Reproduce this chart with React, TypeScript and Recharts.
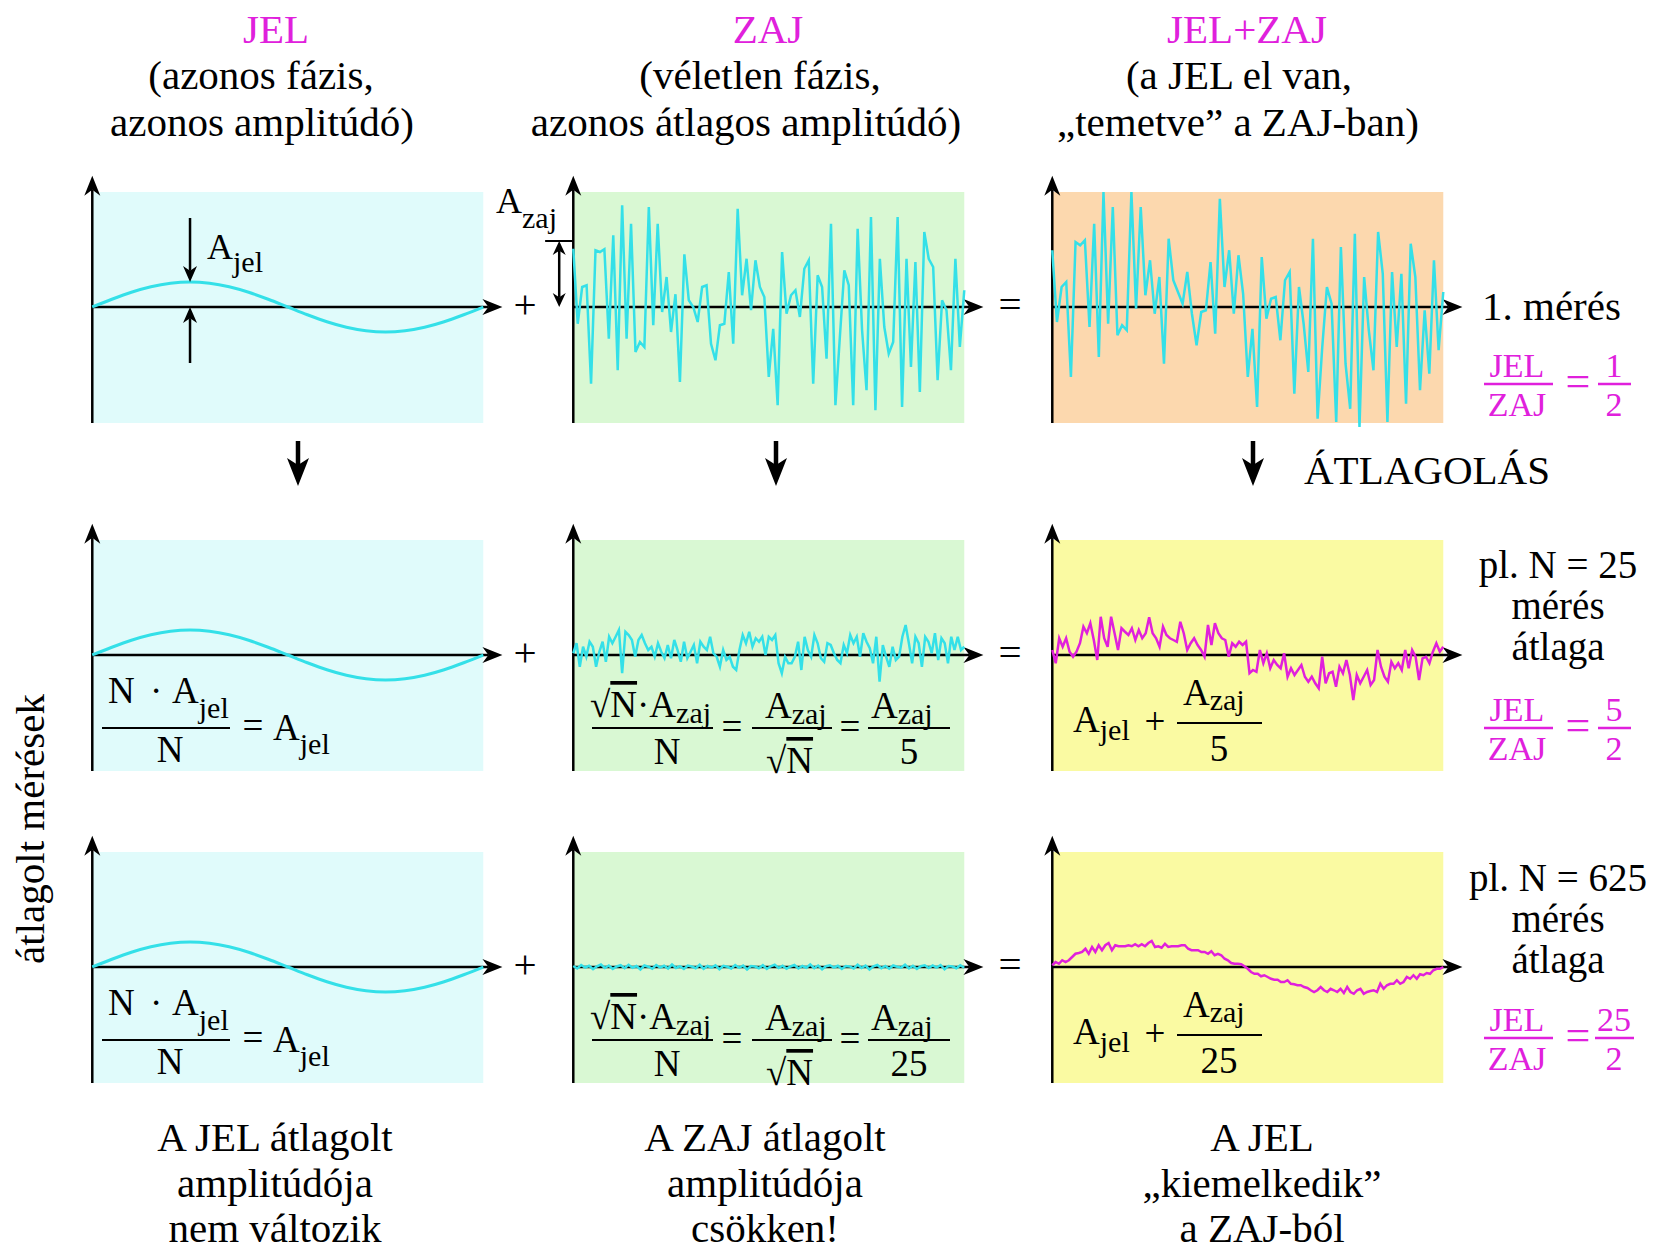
import React from 'react'
import {
  Line,
  LineChart,
  ReferenceArea,
  ReferenceLine,
  XAxis,
  YAxis,
} from 'recharts'

// values in units of the signal amplitude (A_jel = 1)
const jelValues = [
  0, 0.31, 0.59, 0.81, 0.95, 1, 0.95, 0.81, 0.59, 0.31, 0, -0.31, -0.59, -0.81,
  -0.95, -1, -0.95, -0.81, -0.59, -0.31, 0,
]

const zajValues1 = [
  2.33, -0.67, 0.8, 0.87, -3.07, 2.27, 2.2, 2.31, -1.27, 2.87, -2.53, 4.07,
  -1.27, 3.33, -1.8, -1.4, -1.6, 4.0, -0.73, 3.33, -0.2, 1.2, -1.0, 0.51, -3.0,
  2.11, 0.27, 0, -0.6, 0.8, 0.87, -1.47, -2.13, -0.73, -0.67, 1.4, -1.47, 3.93,
  0.47, 1.93, -0.13, 1.87, 0.8, 0.4, -2.8, -0.87, -3.93, 2.2, -0.27, 0.47, 0.67,
  -0.4, 1.53, 1.87, -3.07, 1.27, 0.8, -2.07, 3.33, -3.93, -1.2, 1.47, 0.87,
  -3.93, 3.13, -0.93, -3.33, 3.6, -4.13, 1.93, -0.8, -1.87, -1.4, 3.6, -4.0,
  1.93, -2.4, 1.8, -3.4, 3.0, 1.93, 1.6, -2.93, 0.27, -0.13, -2.53, 1.93, -1.6,
  0.67,
]

const jelZajValues1 = [
  2.27, -0.6, 0.8, 1.0, -2.8, 2.6, 2.47, 2.67, -0.8, 3.33, -2.0, 4.6, -0.67,
  4.0, -1.13, -0.73, -0.93, 4.6, -0.07, 4.0, 0.47, 1.87, -0.27, 1.2, -2.27,
  2.73, 1.07, 0.6, 0.13, 1.4, -0.27, -1.53, -0.2, -0.13, 1.8, -1.07, 4.33, 0.8,
  2.27, -0.27, 2.07, 0.53, -2.8, -0.87, -4.0, 2.0, -0.47, 0.33, 0.4, -1.33,
  1.07, 1.4, -3.47, 0.8, -0.67, -2.6, 2.73, -4.47, -1.6, 0.8, 0.13, -4.6, 2.4,
  -2.27, -4.07, 2.93, -4.8, 1.2, -0.93, -2.53, 3.0, 1.33, -4.6, 1.4, -1.6, 1.33,
  -3.87, 2.53, 1.2, -3.33, -0.13, -2.67, 1.87, -1.73, 0.6,
]

const zajValues25 = [
  0.07, 0.47, -0.47, 0.33, -0.07, 0.53, 0.33, -0.47, 0.13, 0.53, -0.27, 0.73,
  0.47, 0.73, 1.0, -0.73, 0.93, 0.8, 0.6, -0.07, 0.6, 0.8, 0.47, 0.2, 0.33,
  -0.07, 0.47, 0.13, -0.13, 0.4, -0.13, 0.6, 0.2, -0.27, 0.53, -0.13, 0.13, 0.4,
  -0.33, 0.53, 0.33, 0.2, 0.73, 0.07, -0.07, -0.47, 0.2, -0.2, -0.07, -0.47,
  -0.6, 0.2, 0.8, 0.47, 0.93, 0.33, 0.67, 0.53, 0.73, 0, 0.73, 0.6, 0.8, -0.33,
  -0.73, -0.07, -0.33, -0.33, -0.07, 0.53, -0.6, 0.73, 0.2, -0.07, 0.8, 0.47,
  -0.13, -0.27, 0.47, 0.4, 0.07, -0.2, -0.33, 0.4, 0.07, 0.8, 0.47, 0.73, -0.07,
  0.87, 0.53, 0.27, -0.33, 0.73, -1.07, 0.4, -0.07, -0.47, 0.33, -0.2, -0.07,
  0.73, 1.2, 0.47, -0.33, 0.73, 0.47, -0.47, 0.73, 0.53, 0.07, 0.87, -0.2, 0.67,
  0.47, -0.33, 0.73, 0.2, 0.73, 0.2, 0.33,
]

const jelZajValues25 = [
  0.2, -0.33, 0.67, 0.33, 0.67, 0.13, -0.07, 0.13, 0.47, 1.13, 0.87, 1.27, 0.6,
  -0.2, 1.53, 0.67, 0.33, 1.53, 0.87, 0.2, 1.07, 0.93, 0.8, 1.07, 0.6, 1.0,
  0.67, 0.87, 1.51, 0.87, 0.67, 0.33, 1.13, 0.8, 0.67, 0.6, 0.53, 1.33, 0.87,
  0.2, 0.47, 0.67, 0.4, 0.2, -0.07, 1.2, 0.4, 1.27, 0.87, 0.67, 0.6, -0.07, 0.47,
  0.33, 0.53, 0.4, 0.53, -0.73, -0.6, -0.67, 0.2, -0.33, 0.07, -0.53, -0.2,
  -0.4, -0.53, 0.07, -0.87, -0.53, -0.8, -0.6, -0.4, -0.87, -1.07, -0.87, -1.13,
  -1.33, -0.07, -1.13, -0.73, -0.67, -1.27, -0.47, -0.73, -0.2, -0.8, -1.8,
  -0.8, -1.13, -0.87, -0.6, -1.2, -1.0, 0.2, -0.47, -0.87, -1.07, -0.27, -0.53,
  -0.33, -0.6, 0.2, -0.53, 0.2, -0.07, -1.0, -0.13, -0.07, -0.33, 0.13, 0.47,
  0.13, 0.33,
]

const zajValues625 = [
  0.04, -0.06, 0.08, -0.02, 0.05, -0.09, 0.03, 0.1, -0.04, 0.06, -0.08, 0.02,
  0.07, -0.05, 0.09, -0.03, 0.04, -0.1, 0.06, 0.01, -0.07, 0.08, -0.02, 0.05,
  -0.06, 0.1, -0.04, 0.03, -0.08, 0.06, 0.02, -0.05, 0.09, -0.07, 0.04, -0.02,
  0.07, -0.09, 0.05, 0.01, -0.06, 0.08, -0.03, 0.06, -0.1, 0.04, 0.02, -0.05,
  0.07, -0.08, 0.03, 0.09, -0.04, 0.05, -0.07, 0.02, 0.08, -0.06, 0.04, -0.03,
  0.1, -0.05, 0.06, -0.09, 0.03, 0.07, -0.02, 0.05, -0.08, 0.04, 0.02, -0.06,
  0.09, -0.04, 0.06, -0.1, 0.03, 0.08, -0.05, 0.04, -0.07, 0.06, 0.01, -0.03,
  0.09, -0.06, 0.05, -0.08, 0.03, 0.07, -0.04, 0.06, -0.02, 0.08, -0.09, 0.04,
  0.02, -0.05, 0.07, -0.03,
]

const jelZajValues625 = [
  0.07, 0.2, 0.13, 0.27, 0.2, 0.27, 0.4, 0.53, 0.56, 0.6, 0.73, 0.53, 0.8, 0.6,
  0.87, 0.67, 0.87, 0.96, 0.67, 0.87, 0.83, 0.83, 0.83, 0.87, 0.83, 0.91, 0.83,
  0.91, 0.83, 0.96, 1.04, 0.8, 0.83, 0.77, 0.93, 0.8, 0.83, 0.83, 0.83, 0.87,
  0.87, 0.73, 0.67, 0.67, 0.67, 0.6, 0.6, 0.53, 0.63, 0.47, 0.53, 0.47, 0.33,
  0.27, 0.16, 0.13, 0.13, 0.11, 0.03, -0.07, -0.2, -0.27, -0.27, -0.37, -0.33,
  -0.4, -0.47, -0.51, -0.51, -0.6, -0.6, -0.53, -0.67, -0.69, -0.73, -0.73,
  -0.8, -0.84, -0.93, -1.0, -0.93, -0.8, -0.93, -1.0, -0.87, -0.93, -1.0, -0.87,
  -1.04, -0.8, -1.0, -1.07, -0.93, -0.87, -1.07, -1.0, -0.96, -0.93, -1.0,
  -0.67, -0.87, -0.73, -0.67, -0.67, -0.53, -0.67, -0.6, -0.4, -0.47, -0.33,
  -0.47, -0.29, -0.33, -0.24, -0.27, -0.13, -0.07, -0.07, 0,
]

const headTitles = ['JEL', 'ZAJ', 'JEL+ZAJ']
const headLine2 = ['(azonos fázis,', '(véletlen fázis,', '(a JEL el van,']
const headLine3 = [
  'azonos amplitúdó)',
  'azonos átlagos amplitúdó)',
  '„temetve” a ZAJ-ban)',
]
const footLines = [
  ['A JEL átlagolt', 'amplitúdója', 'nem változik'],
  ['A ZAJ átlagolt', 'amplitúdója', 'csökken!'],
  ['A JEL', '„kiemelkedik”', 'a ZAJ-ból'],
]
const rowNotes = [['1. mérés'], ['pl. N = 25', 'mérés', 'átlaga'], ['pl. N = 625', 'mérés', 'átlaga']]
const ratioNum = ['1', '5', '25']
const ratioDen = ['2', '2', '2']
const divisors = ['5', '25']

// ---- layout ----
const FONT = '"Liberation Serif", "Times New Roman", serif'
const MAG = '#e020dc'
const CYAN = '#34e0e8'
const BG_JEL = '#e0fbfb'
const BG_ZAJ = '#d9f8d3'
const BG_SUM1 = '#fcd8ae'
const BG_SUM = '#fafaa2'

const colX = [92, 573, 1052]
const rowY = [307, 655, 967]
const X_MIN = -8
const X_MAX = 106
const Y_MIN = -5.2
const Y_MAX = 5.6
const PX_X = 3.91
const PX_Y = 25
const CW = (X_MAX - X_MIN) * PX_X
const CH = (Y_MAX - Y_MIN) * PX_Y

const toPts = (vals: number[]) =>
  vals.map((y, i) => ({ x: (i * 100) / (vals.length - 1), y }))

const arrowShape =
  (head = 20, half = 8, width = 2.5) =>
  (props: any) => {
    const { x1, y1, x2, y2 } = props
    const dx = x2 - x1
    const dy = y2 - y1
    const len = Math.hypot(dx, dy) || 1
    const ux = dx / len
    const uy = dy / len
    const px = -uy
    const py = ux
    const bx = x2 - ux * head
    const by = y2 - uy * head
    const nx = x2 - ux * head * 0.7
    const ny = y2 - uy * head * 0.7
    return (
      <g>
        <line x1={x1} y1={y1} x2={nx} y2={ny} stroke="#000" strokeWidth={width} />
        <polygon
          points={`${x2},${y2} ${bx + px * half},${by + py * half} ${nx},${ny} ${bx - px * half},${by - py * half}`}
          fill="#000"
        />
      </g>
    )
  }

const plainShape = (props: any) => (
  <line x1={props.x1} y1={props.y1} x2={props.x2} y2={props.y2} stroke="#000" strokeWidth={2} />
)

interface Series {
  values: number[]
  color: string
  smooth?: boolean
}

function Panel({
  col,
  row,
  bg,
  series,
  children,
}: {
  col: number
  row: number
  bg: string
  series: Series[]
  children?: React.ReactNode
}) {
  return (
    <div
      style={{
        position: 'absolute',
        left: colX[col] + X_MIN * PX_X,
        top: rowY[row] - Y_MAX * PX_Y,
      }}
    >
      <LineChart width={CW} height={CH} margin={{ top: 0, right: 0, bottom: 0, left: 0 }}>
        <XAxis type="number" dataKey="x" domain={[X_MIN, X_MAX]} allowDataOverflow hide />
        <YAxis type="number" domain={[Y_MIN, Y_MAX]} allowDataOverflow hide />
        <ReferenceArea x1={0} x2={100} y1={-4.64} y2={4.6} fill={bg} fillOpacity={1} stroke="none" />
        <ReferenceLine segment={[{ x: 0, y: 0 }, { x: 104.9, y: 0 }]} shape={arrowShape()} />
        <ReferenceLine segment={[{ x: 0, y: -4.64 }, { x: 0, y: 5.25 }]} shape={arrowShape()} />
        {series.map((s, i) => (
          <Line
            key={i}
            data={toPts(s.values)}
            dataKey="y"
            type={s.smooth ? 'monotone' : 'linear'}
            stroke={s.color}
            strokeWidth={s.smooth ? 3 : 2.5}
            dot={false}
            isAnimationActive={false}
          />
        ))}
        {children}
      </LineChart>
    </div>
  )
}

const Sub = ({ children, dy }: { children: React.ReactNode; dy: number }) => (
  <tspan fontSize={30} dy={dy}>
    {children}
  </tspan>
)

function Fraction({ x1, x2, y }: { x1: number; x2: number; y: number }) {
  return <line x1={x1} x2={x2} y1={y} y2={y} stroke="#000" strokeWidth={2} />
}

function Formulas({ dy, div }: { dy: number; div: string }) {
  return (
    <g fontSize={37}>
      {/* JEL column */}
      <text x={108} y={703 + dy}>
        N<tspan x={150}>·</tspan>
        <tspan x={172}>A</tspan>
        <Sub dy={15}>jel</Sub>
      </text>
      <Fraction x1={102} x2={230} y={728 + dy} />
      <text x={170} y={762 + dy} textAnchor="middle">N</text>
      <text x={253} y={738 + dy} textAnchor="middle">=</text>
      <text x={273} y={740 + dy}>
        A<Sub dy={14}>jel</Sub>
      </text>

      {/* ZAJ column */}
      <text x={590} y={717 + dy}>
        √<tspan style={{ textDecoration: 'overline' }}>N</tspan>·A<Sub dy={6}>zaj</Sub>
      </text>
      <Fraction x1={592} x2={713} y={728 + dy} />
      <text x={667} y={764 + dy} textAnchor="middle">N</text>
      <text x={732} y={739 + dy} textAnchor="middle">=</text>
      <text x={765} y={718 + dy}>
        A<Sub dy={6}>zaj</Sub>
      </text>
      <Fraction x1={752} x2={832} y={728 + dy} />
      <text x={766} y={773 + dy}>
        √<tspan style={{ textDecoration: 'overline' }}>N</tspan>
      </text>
      <text x={850} y={739 + dy} textAnchor="middle">=</text>
      <text x={871} y={718 + dy}>
        A<Sub dy={6}>zaj</Sub>
      </text>
      <Fraction x1={868} x2={950} y={728 + dy} />
      <text x={909} y={764 + dy} textAnchor="middle">{div}</text>

      {/* JEL+ZAJ column */}
      <text x={1073} y={732 + dy}>
        A<Sub dy={8}>jel</Sub>
      </text>
      <text x={1155} y={734 + dy} textAnchor="middle">+</text>
      <text x={1183} y={705 + dy}>
        A<Sub dy={5}>zaj</Sub>
      </text>
      <Fraction x1={1177} x2={1262} y={723 + dy} />
      <text x={1219} y={761 + dy} textAnchor="middle">{div}</text>
    </g>
  )
}

function Ratio({ row, base }: { row: number; base: number }) {
  return (
    <g fill={MAG} fontSize={34}>
      <text x={1517} y={base} textAnchor="middle">JEL</text>
      <line x1={1484} x2={1553} y1={base + 7} y2={base + 7} stroke={MAG} strokeWidth={2.5} />
      <text x={1517} y={base + 39} textAnchor="middle">ZAJ</text>
      <text x={1578} y={base + 19} textAnchor="middle" fontSize={44}>=</text>
      <text x={1614} y={base} textAnchor="middle">{ratioNum[row]}</text>
      <line
        x1={ratioNum[row].length > 1 ? 1595 : 1598}
        x2={ratioNum[row].length > 1 ? 1634 : 1631}
        y1={base + 7}
        y2={base + 7}
        stroke={MAG}
        strokeWidth={2.5}
      />
      <text x={1614} y={base + 39} textAnchor="middle">{ratioDen[row]}</text>
    </g>
  )
}

function DownArrow({ x }: { x: number }) {
  return (
    <g>
      <line x1={x} x2={x} y1={441} y2={466} stroke="#000" strokeWidth={4.5} />
      <polygon points={`${x},${486} ${x - 11},${458} ${x},${465} ${x + 11},${458}`} fill="#000" />
    </g>
  )
}

export default function App() {
  const jelSeries = [{ values: jelValues, color: CYAN, smooth: true }]
  return (
    <div
      style={{
        position: 'absolute',
        left: 0,
        top: 0,
        width: 1656,
        height: 1255,
        background: '#fff',
        overflow: 'hidden',
      }}
    >
      {/* row 1 */}
      <Panel col={0} row={0} bg={BG_JEL} series={jelSeries}>
        <ReferenceLine segment={[{ x: 25, y: 3.56 }, { x: 25, y: 1 }]} shape={arrowShape(16, 7, 2.5)} />
        <ReferenceLine segment={[{ x: 25, y: -2.24 }, { x: 25, y: 0 }]} shape={arrowShape(16, 7, 2.5)} />
      </Panel>
      <Panel col={1} row={0} bg={BG_ZAJ} series={[{ values: zajValues1, color: CYAN }]}>
        <ReferenceLine segment={[{ x: -7.2, y: 2.64 }, { x: 0, y: 2.64 }]} shape={plainShape} />
        <ReferenceLine segment={[{ x: -3.6, y: 1.32 }, { x: -3.6, y: 2.64 }]} shape={arrowShape(14, 6.5, 2.5)} />
        <ReferenceLine segment={[{ x: -3.6, y: 1.32 }, { x: -3.6, y: 0 }]} shape={arrowShape(14, 6.5, 2.5)} />
      </Panel>
      <Panel col={2} row={0} bg={BG_SUM1} series={[{ values: jelZajValues1, color: CYAN }]} />

      {/* row 2 */}
      <Panel col={0} row={1} bg={BG_JEL} series={jelSeries} />
      <Panel col={1} row={1} bg={BG_ZAJ} series={[{ values: zajValues25, color: CYAN }]} />
      <Panel col={2} row={1} bg={BG_SUM} series={[{ values: jelZajValues25, color: MAG }]} />

      {/* row 3 */}
      <Panel col={0} row={2} bg={BG_JEL} series={jelSeries} />
      <Panel col={1} row={2} bg={BG_ZAJ} series={[{ values: zajValues625, color: CYAN }]} />
      <Panel col={2} row={2} bg={BG_SUM} series={[{ values: jelZajValues625, color: MAG }]} />

      <svg
        width={1656}
        height={1255}
        style={{ position: 'absolute', left: 0, top: 0, pointerEvents: 'none' }}
        fontFamily={FONT}
      >
        {/* headers */}
        <g fontSize={41} textAnchor="middle">
          {headTitles.map((t, i) => (
            <text key={t} x={[276, 768, 1247][i]} y={43} fill={MAG}>
              {t}
            </text>
          ))}
          {headLine2.map((t, i) => (
            <text key={t} x={[261, 760, 1239][i]} y={89}>
              {t}
            </text>
          ))}
          {headLine3.map((t, i) => (
            <text key={t} x={[262, 746, 1238][i]} y={136}>
              {t}
            </text>
          ))}
          {footLines.map((lines, i) =>
            lines.map((t, j) => (
              <text key={`${i}-${j}`} x={[275, 765, 1262][i]} y={1151 + j * 45.5}>
                {t}
              </text>
            ))
          )}
          {rowNotes.slice(1).map((lines, i) =>
            lines.map((t, j) => (
              <text key={`n${i}-${j}`} x={1558} y={[578, 891][i] + j * 41} fontSize={39}>
                {t}
              </text>
            ))
          )}
          {rowY.map((y) => (
            <g key={y}>
              <text x={525} y={y + 11}>+</text>
              <text x={1010} y={y + 11}>=</text>
            </g>
          ))}
          <text x={44} y={829} transform="rotate(-90 44 829)">
            átlagolt mérések
          </text>
        </g>
        <text x={1482} y={320} fontSize={41}>
          {rowNotes[0][0]}
        </text>
        <text x={1304} y={484} fontSize={41}>
          ÁTLAGOLÁS
        </text>

        {/* annotations in row 1 */}
        <text x={207} y={259} fontSize={36}>
          A<Sub dy={13}>jel</Sub>
        </text>
        <text x={496} y={213} fontSize={36}>
          A<Sub dy={15}>zaj</Sub>
        </text>

        {[298, 776, 1253].map((x) => (
          <DownArrow key={x} x={x} />
        ))}

        <Formulas dy={0} div={divisors[0]} />
        <Formulas dy={312} div={divisors[1]} />

        <Ratio row={0} base={377} />
        <Ratio row={1} base={721} />
        <Ratio row={2} base={1031} />
      </svg>
    </div>
  )
}
